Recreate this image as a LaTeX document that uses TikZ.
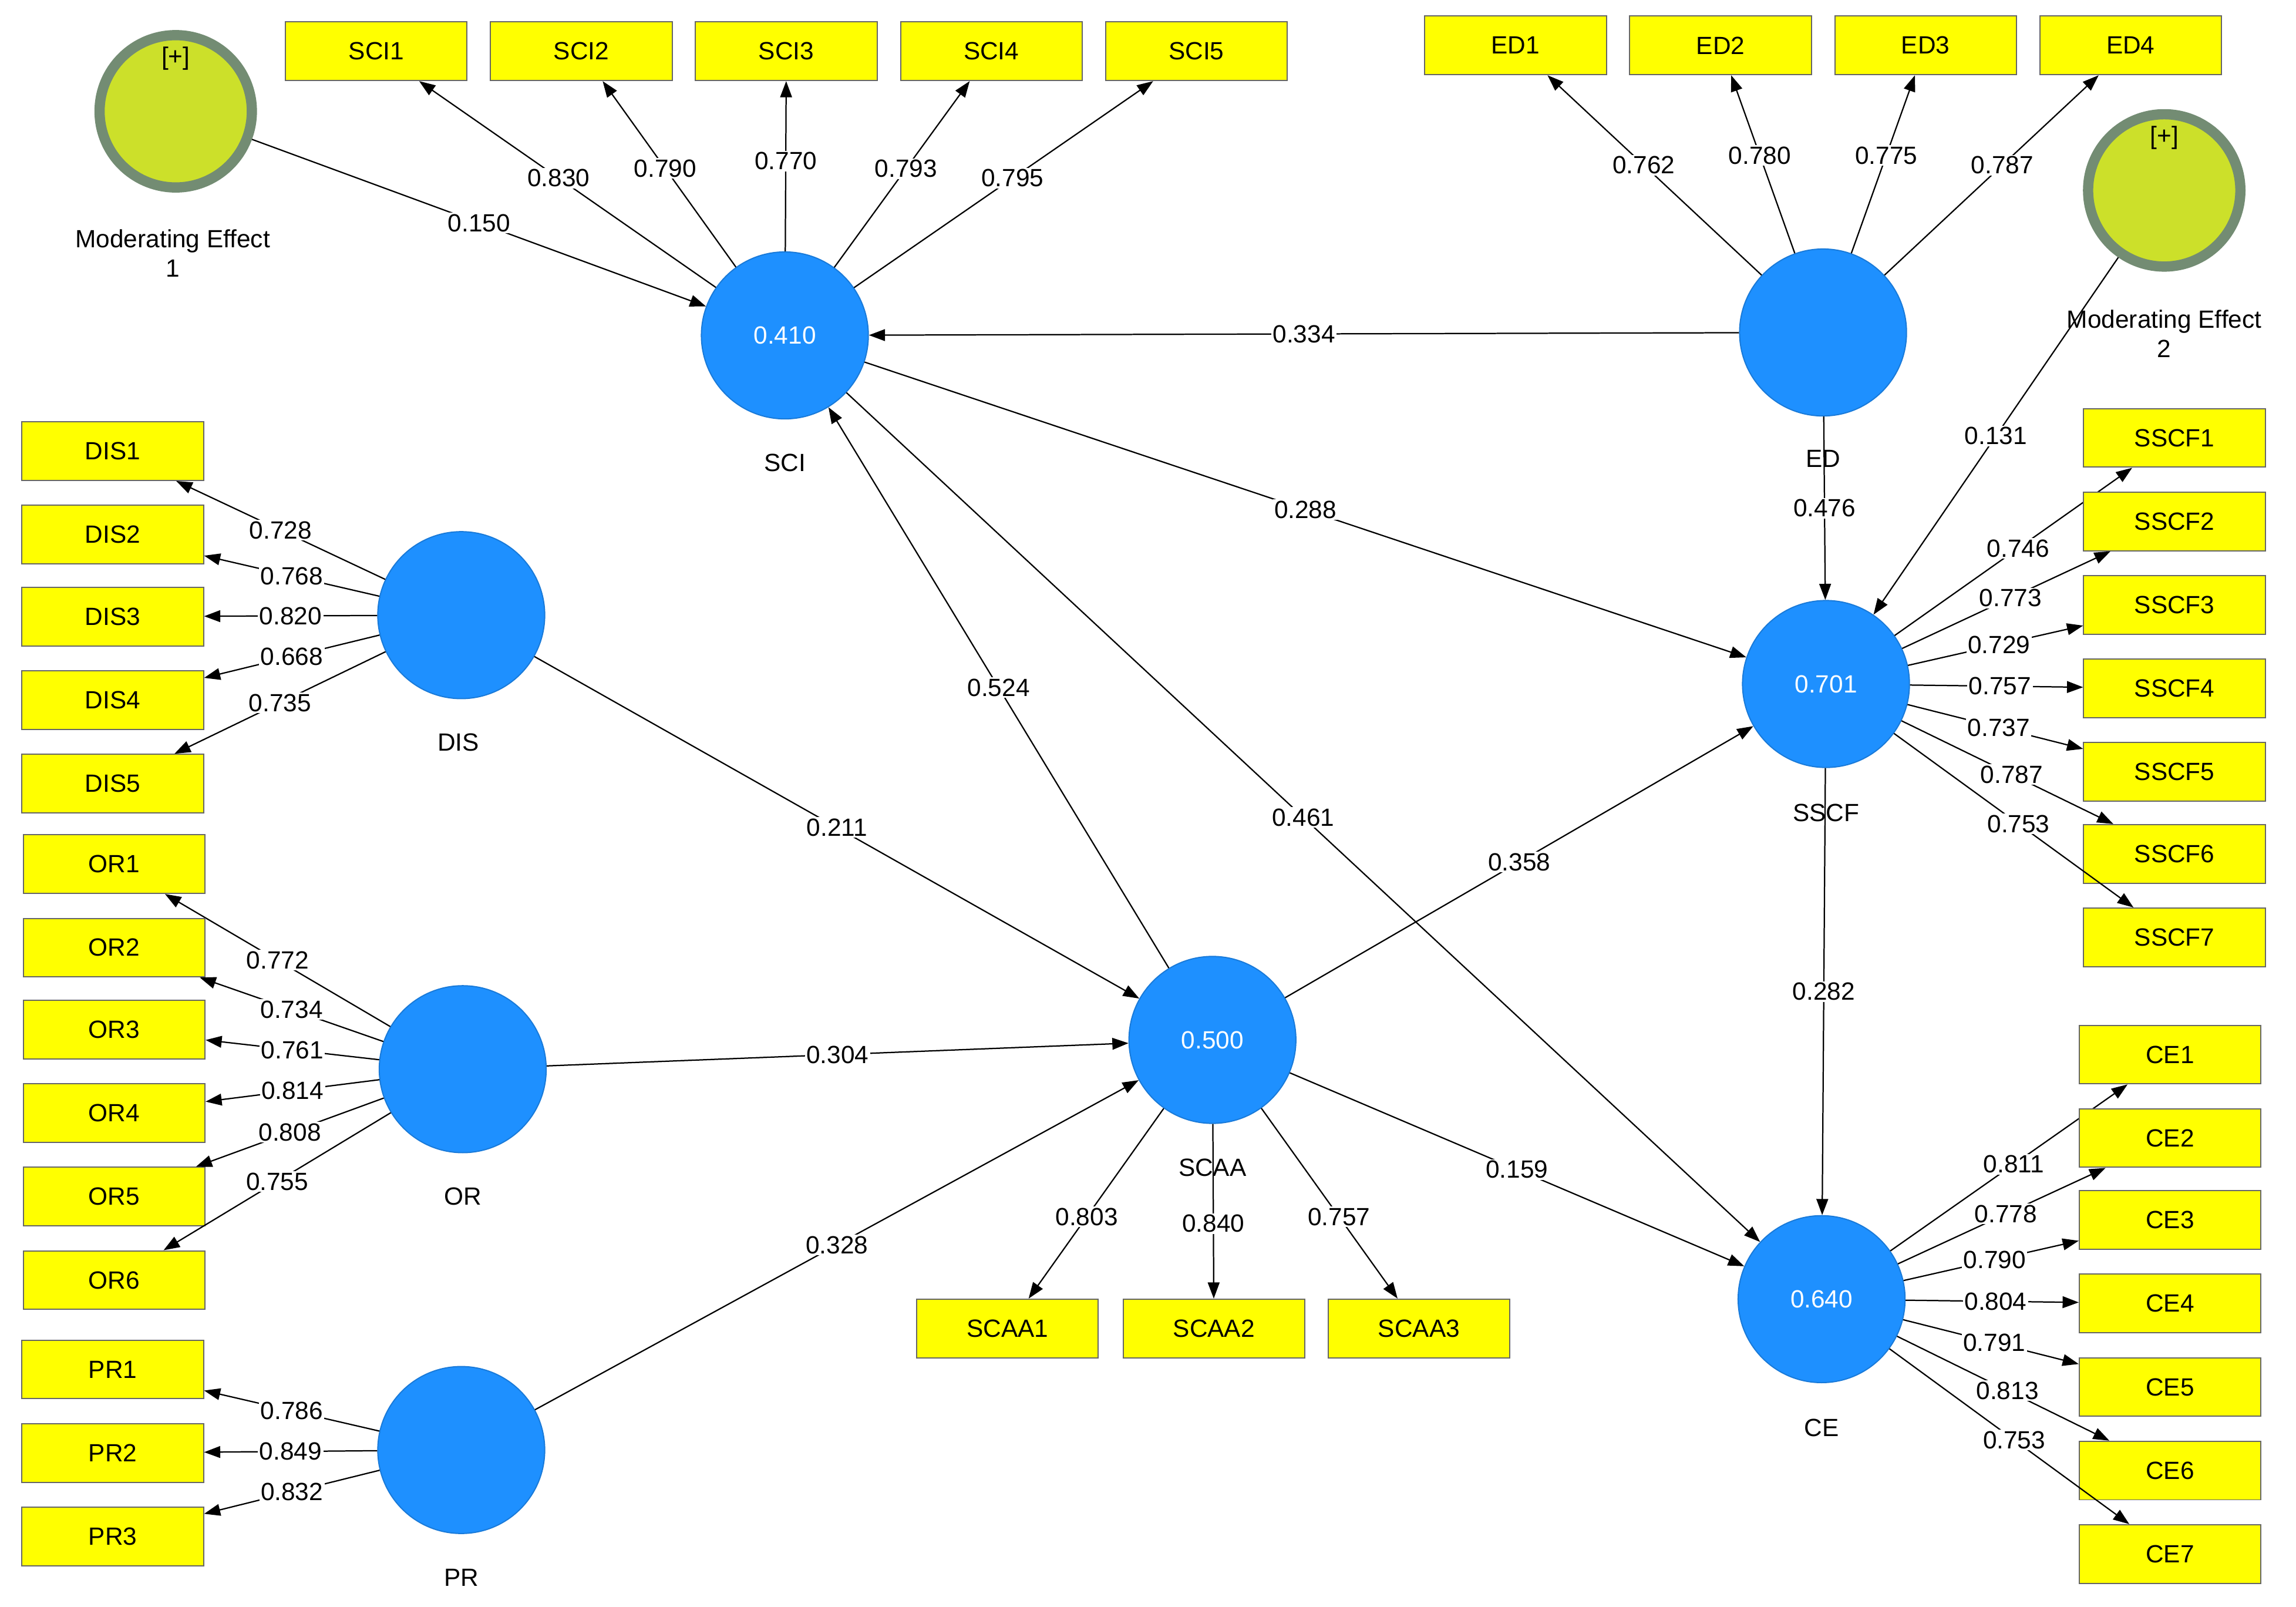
\documentclass[tikz,border=0pt]{standalone}
\usepackage{fontspec}
\setmainfont{Liberation Sans}
\usetikzlibrary{arrows.meta}
\definecolor{lv}{HTML}{1E90FF}
\definecolor{ind}{HTML}{FFFF00}
\definecolor{me}{HTML}{CCE02A}
\begin{document}
\begin{tikzpicture}[x=1pt,y=-1pt,
  font=\fontsize{17}{19}\selectfont,
  lat/.style={circle,fill=lv,draw=lv!85!black,line width=0.8pt,minimum size=114pt,inner sep=0pt,text=white},
  box/.style={rectangle,fill=ind,draw=black!60,line width=0.8pt,minimum width=124pt,minimum height=40pt,inner sep=0pt},
  mod/.style={circle,fill=me,draw=gray!90!green,line width=7pt,minimum size=104pt,inner sep=0pt},
  arr/.style={draw=black,line width=0.9pt,-{Triangle[length=11pt,width=8pt]}},
  lab/.style={fill=white,inner sep=1pt,pos=0.5},
  nm/.style={font=\fontsize{17}{20}\selectfont,align=center}]
\useasboundingbox (0,0) rectangle (1568,1097);
% latent variables
\node[lat] (SCI) at (536,229) {0.410};
\node[lat] (ED) at (1245,227) {};
\node[lat] (DIS) at (315,420) {};
\node[lat] (OR) at (316,730) {};
\node[lat] (PR) at (315,990) {};
\node[lat] (SCAA) at (828,710) {0.500};
\node[lat] (SSCF) at (1247,467) {0.701};
\node[lat] (CE) at (1244,887) {0.640};
\node[mod] (ME1) at (120,76) {};
\node[mod] (ME2) at (1478,130) {};
\node at (120,40) {[+]};
\node at (1478,94) {[+]};
% names
\node[nm] (nSCI) at (536,316) {SCI};
\node[nm] (nED) at (1245,313) {ED};
\node[nm] (nDIS) at (313,507) {DIS};
\node[nm] (nOR) at (316,817) {OR};
\node[nm] (nPR) at (315,1077) {PR};
\node[nm] (nSCAA) at (828,797) {SCAA};
\node[nm] (nSSCF) at (1247,555) {SSCF};
\node[nm] (nCE) at (1244,975) {CE};
\node[nm] (nME1) at (118,173) {Moderating Effect\\1};
\node[nm] (nME2) at (1478,228) {Moderating Effect\\2};
% indicators
\foreach \i/\x/\v in {1/257/0.830,2/397/0.790,3/537/0.770,4/677/0.793,5/817/0.795}{
  \node[box] (SCI\i) at (\x,35) {SCI\i};
  \draw[arr] (SCI) -- (SCI\i) node[lab,pos=0.53] {\v};}
\foreach \i/\x/\v in {1/1035/0.762,2/1175/0.780,3/1315/0.775,4/1455/0.787}{
  \node[box] (ED\i) at (\x,31) {ED\i};
  \draw[arr] (ED) -- (ED\i) node[lab,pos=0.55] {\v};}
\foreach \i/\y/\v in {1/308/0.728,2/365/0.768,3/421/0.820,4/478/0.668,5/535/0.735}{
  \node[box] (DIS\i) at (77,\y) {DIS\i};
  \draw[arr] (DIS) -- (DIS\i) node[lab,pos=0.5] {\v};}
\foreach \i/\y/\v in {1/590/0.772,2/647/0.734,3/703/0.761,4/760/0.814,5/817/0.808,6/874/0.755}{
  \node[box] (OR\i) at (78,\y) {OR\i};
  \draw[arr] (OR) -- (OR\i) node[lab,pos=0.5] {\v};}
\foreach \i/\y/\v in {1/935/0.786,2/992/0.849,3/1049/0.832}{
  \node[box] (PR\i) at (77,\y) {PR\i};
  \draw[arr] (PR) -- (PR\i) node[lab,pos=0.5] {\v};}
\foreach \i/\x/\v in {1/688/0.803,2/829/0.840,3/969/0.757}{
  \node[box] (SCAA\i) at (\x,907) {SCAA\i};
  \draw[arr] (SCAA) -- (SCAA\i) node[lab,pos=0.57] {\v};}
\foreach \i/\y/\v in {1/299/0.746,2/356/0.773,3/413/0.729,4/470/0.757,5/527/0.737,6/583/0.787,7/640/0.753}{
  \node[box] (SSCF\i) at (1485,\y) {SSCF\i};
  \draw[arr] (SSCF) -- (SSCF\i) node[lab,pos=0.52] {\v};}
\foreach \i/\y/\v in {1/720/0.811,2/777/0.778,3/833/0.790,4/890/0.804,5/947/0.791,6/1004/0.813,7/1061/0.753}{
  \node[box] (CE\i) at (1482,\y) {CE\i};
  \draw[arr] (CE) -- (CE\i) node[lab,pos=0.52] {\v};}
% structural paths
\draw[arr] (ME1) -- (SCI) node[lab] {0.150};
\draw[arr] (ED) -- (SCI) node[lab] {0.334};
\draw[arr] (SCI) -- (SSCF) node[lab] {0.288};
\draw[arr] (SCAA) -- (SCI) node[lab] {0.524};
\draw[arr] (SCI) -- (CE) node[lab] {0.461};
\draw[arr] (DIS) -- (SCAA) node[lab] {0.211};
\draw[arr] (OR) -- (SCAA) node[lab] {0.304};
\draw[arr] (PR) -- (SCAA) node[lab] {0.328};
\draw[arr] (SCAA) -- (SSCF) node[lab] {0.358};
\draw[arr] (SCAA) -- (CE) node[lab] {0.159};
\draw[arr] (ED) -- (SSCF) node[lab] {0.476};
\draw[arr] (SSCF) -- (CE) node[lab] {0.282};
\draw[arr] (ME2) -- (SSCF) node[lab] {0.131};
\end{tikzpicture}
\end{document}
